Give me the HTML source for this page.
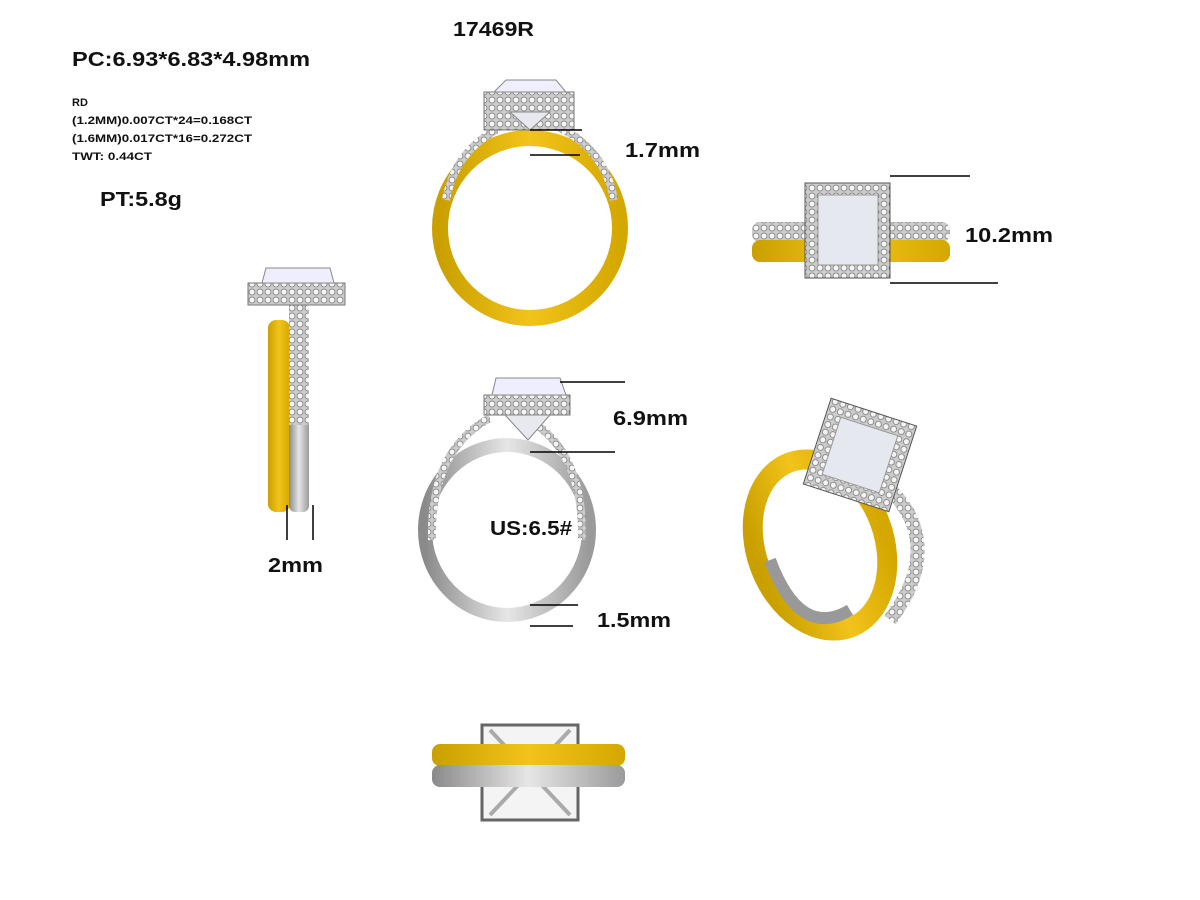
<!DOCTYPE html>
<html><head><meta charset="utf-8"><style>
html,body{margin:0;padding:0;background:#fff;width:1200px;height:900px;overflow:hidden}
svg{display:block}
text{font-family:"Liberation Sans",sans-serif;font-weight:bold;fill:#111}
</style></head><body>
<svg width="1200" height="900" viewBox="0 0 1200 900">
<defs>
<linearGradient id="y" x1="0" x2="1"><stop offset="0" stop-color="#c9a000"/><stop offset=".5" stop-color="#f2c31a"/><stop offset="1" stop-color="#d4a800"/></linearGradient>
<linearGradient id="g" x1="0" x2="1"><stop offset="0" stop-color="#8a8a8a"/><stop offset=".5" stop-color="#e6e6e6"/><stop offset="1" stop-color="#9a9a9a"/></linearGradient>
<pattern id="pv" width="8" height="8" patternUnits="userSpaceOnUse"><rect width="8" height="8" fill="#ccc"/><circle cx="4" cy="4" r="3" fill="#f4f4f4" stroke="#777" stroke-width=".8"/></pattern>
</defs>
<text x="453" y="36" font-size="20" textLength="81" lengthAdjust="spacingAndGlyphs">17469R</text>
<text x="72" y="66" font-size="20" textLength="238" lengthAdjust="spacingAndGlyphs">PC:6.93*6.83*4.98mm</text>
<text x="72" y="106" font-size="11">RD</text>
<text x="72" y="124" font-size="11" textLength="180" lengthAdjust="spacingAndGlyphs">(1.2MM)0.007CT*24=0.168CT</text>
<text x="72" y="142" font-size="11" textLength="180" lengthAdjust="spacingAndGlyphs">(1.6MM)0.017CT*16=0.272CT</text>
<text x="72" y="160" font-size="11" textLength="80" lengthAdjust="spacingAndGlyphs">TWT:  0.44CT</text>
<text x="100" y="206" font-size="20" textLength="82" lengthAdjust="spacingAndGlyphs">PT:5.8g</text>

<!-- top ring -->
<circle cx="530" cy="228" r="90" fill="none" stroke="url(#y)" stroke-width="16"/>
<path d="M446 200 Q455 150 500 128" fill="none" stroke="url(#pv)" stroke-width="8"/>
<path d="M614 200 Q605 150 560 128" fill="none" stroke="url(#pv)" stroke-width="8"/>
<rect x="484" y="92" width="90" height="38" fill="url(#pv)" stroke="#777"/>
<path d="M494 92 L506 80 L556 80 L566 92 Z" fill="#eef" stroke="#888"/>
<path d="M510 112 L530 130 L550 112 Z" fill="#e8e8f0" stroke="#888"/>
<line x1="530" y1="130" x2="582" y2="130" stroke="#000" stroke-width="1.5"/>
<line x1="530" y1="155" x2="580" y2="155" stroke="#000" stroke-width="1.5"/>
<text x="625" y="157" font-size="20" textLength="75" lengthAdjust="spacingAndGlyphs">1.7mm</text>

<!-- top right -->
<rect x="752" y="222" width="198" height="20" rx="8" fill="url(#pv)"/>
<rect x="752" y="240" width="198" height="22" rx="8" fill="url(#y)"/>
<rect x="805" y="183" width="85" height="95" fill="url(#pv)" stroke="#555"/>
<rect x="818" y="195" width="60" height="70" fill="#e6e8f0" stroke="#999"/>
<line x1="890" y1="176" x2="970" y2="176" stroke="#000" stroke-width="1.5"/>
<line x1="890" y1="283" x2="998" y2="283" stroke="#000" stroke-width="1.5"/>
<text x="965" y="242" font-size="20" textLength="88" lengthAdjust="spacingAndGlyphs">10.2mm</text>

<!-- side view -->
<rect x="268" y="320" width="22" height="192" rx="8" fill="url(#y)"/>
<rect x="289" y="305" width="20" height="207" rx="6" fill="url(#g)"/>
<rect x="289" y="305" width="20" height="120" fill="url(#pv)"/>
<rect x="248" y="283" width="97" height="22" fill="url(#pv)" stroke="#777"/>
<path d="M262 283 L266 268 L330 268 L334 283 Z" fill="#eef" stroke="#888"/>
<line x1="287" y1="505" x2="287" y2="540" stroke="#000" stroke-width="1.5"/>
<line x1="313" y1="505" x2="313" y2="540" stroke="#000" stroke-width="1.5"/>
<text x="268" y="572" font-size="20" textLength="55" lengthAdjust="spacingAndGlyphs">2mm</text>

<!-- middle ring -->
<ellipse cx="507" cy="530" rx="82" ry="85" fill="none" stroke="url(#g)" stroke-width="14"/>
<path d="M432 540 Q430 450 490 418" fill="none" stroke="url(#pv)" stroke-width="8"/>
<path d="M582 540 Q584 450 526 418" fill="none" stroke="url(#pv)" stroke-width="8"/>
<rect x="484" y="395" width="86" height="20" fill="url(#pv)" stroke="#777"/>
<path d="M492 395 L496 378 L560 378 L566 395 Z" fill="#eef" stroke="#888"/>
<path d="M505 415 L528 440 L550 415 Z" fill="#e8e8f0" stroke="#888"/>
<line x1="560" y1="382" x2="625" y2="382" stroke="#000" stroke-width="1.5"/>
<line x1="530" y1="452" x2="615" y2="452" stroke="#000" stroke-width="1.5"/>
<text x="613" y="425" font-size="20" textLength="75" lengthAdjust="spacingAndGlyphs">6.9mm</text>
<text x="490" y="535" font-size="20" textLength="82" lengthAdjust="spacingAndGlyphs">US:6.5#</text>
<line x1="530" y1="605" x2="578" y2="605" stroke="#000" stroke-width="1.5"/>
<line x1="530" y1="626" x2="573" y2="626" stroke="#000" stroke-width="1.5"/>
<text x="597" y="627" font-size="20" textLength="74" lengthAdjust="spacingAndGlyphs">1.5mm</text>

<!-- bottom -->
<rect x="482" y="725" width="96" height="95" fill="#f4f4f4" stroke="#666" stroke-width="3"/>
<path d="M490 730 L570 815 M570 730 L490 815" stroke="#aaa" stroke-width="4"/>
<rect x="432" y="744" width="193" height="22" rx="8" fill="url(#y)"/>
<rect x="432" y="765" width="193" height="22" rx="8" fill="url(#g)"/>

<!-- perspective -->
<ellipse cx="820" cy="545" rx="64" ry="88" transform="rotate(-20 820 545)" fill="none" stroke="url(#y)" stroke-width="20"/>
<path d="M880 480 Q950 540 890 620" fill="none" stroke="url(#pv)" stroke-width="14"/>
<path d="M770 560 Q800 640 850 610" fill="none" stroke="#999" stroke-width="12"/>
<g transform="rotate(18 860 455)"><rect x="815" y="410" width="90" height="90" fill="url(#pv)" stroke="#555"/><rect x="830" y="425" width="60" height="60" fill="#e6e8f0" stroke="#999"/></g>
</svg>
</body></html>
